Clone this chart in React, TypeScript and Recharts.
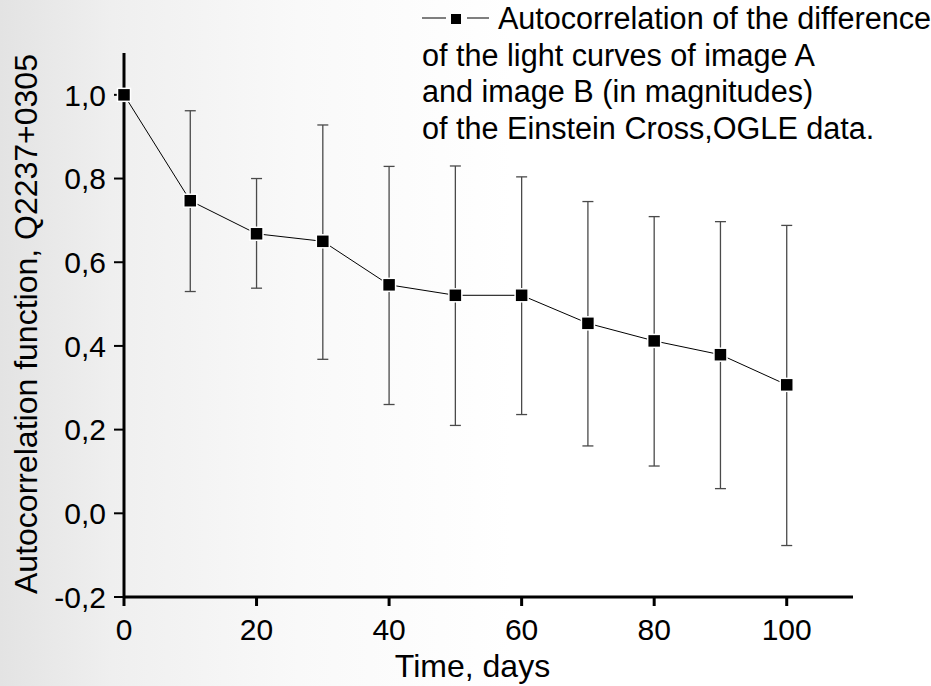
import React from 'react';
import { LineChart, Line, XAxis, YAxis, ErrorBar, Legend, Label } from 'recharts';

// time lag in days
const days = [0, 10, 20, 30, 40, 50, 60, 70, 80, 90, 100];
// autocorrelation value at each lag
const acf = [1.0, 0.747, 0.668, 0.65, 0.546, 0.521, 0.521, 0.454, 0.412, 0.379, 0.307];
// top and bottom ends of the error bars
const errTop = [1.0, 0.962, 0.8, 0.928, 0.829, 0.83, 0.804, 0.745, 0.709, 0.697, 0.688];
const errBottom = [1.0, 0.53, 0.538, 0.368, 0.26, 0.21, 0.236, 0.161, 0.113, 0.059, -0.077];

const xTicks = [0, 20, 40, 60, 80, 100];
const yTicks = [-0.2, 0, 0.2, 0.4, 0.6, 0.8, 1.0];

const seriesName = 'Autocorrelation of the difference';
const legendLines = [
  'of the light curves of image A',
  'and image B (in magnitudes)',
  'of the Einstein Cross,OGLE data.',
];

const FONT = '"Liberation Sans", Arial, Helvetica, sans-serif';

const data = days.map((t, i) => ({
  t,
  v: acf[i],
  err: [acf[i] - errBottom[i], errTop[i] - acf[i]],
}));

const fmt = (v: number) => v.toFixed(1).replace('.', ',');

const XTick = (props: any) => {
  const { x, y, payload } = props;
  return (
    <text x={x} y={y + 32} textAnchor="middle" fontSize={30} fontFamily={FONT} fill="#000">
      {payload.value}
    </text>
  );
};

const YTick = (props: any) => {
  const { x, y, payload } = props;
  return (
    <text x={x} y={y} dy="0.36em" textAnchor="end" fontSize={30} fontFamily={FONT} fill="#000">
      {fmt(payload.value)}
    </text>
  );
};

const SquareDot = (props: any) => {
  const { cx, cy, index } = props;
  return (
    <rect key={`sq-${index}`} x={cx - 6.5} y={cy - 6.5} width={13} height={13} fill="#000" stroke="#fff" strokeWidth={1.5} />
  );
};

const XTitle = (props: any) => {
  const vb = props.viewBox;
  return (
    <text x={vb.x + vb.width / 2 - 16} y={677} textAnchor="middle" fontSize={32} fontFamily={FONT} fill="#000">
      Time, days
    </text>
  );
};

const YTitle = (props: any) => {
  const vb = props.viewBox;
  const cy = vb.y + vb.height / 2 - 1;
  return (
    <text transform={`translate(37, ${cy}) rotate(-90)`} textAnchor="middle" fontSize={32} fontFamily={FONT} fill="#000">
      Autocorrelation function,  Q2237+0305
    </text>
  );
};

const renderLegend = (props: any) => {
  const name = props.payload && props.payload.length ? props.payload[0].value : seriesName;
  return (
    <div style={{ fontFamily: FONT, fontSize: 30.6, lineHeight: '36.7px', color: '#000', whiteSpace: 'pre' }}>
      <div style={{ display: 'flex', alignItems: 'flex-start' }}>
        <svg width={76} height={36.7}>
          <line x1={0} y1={18} x2={24} y2={18} stroke="#000" strokeWidth={1} />
          <rect x={29} y={14} width={10} height={10} fill="#000" />
          <line x1={45} y1={18} x2={67} y2={18} stroke="#000" strokeWidth={1} />
        </svg>
        <span>{name}</span>
      </div>
      {legendLines.map((l) => (
        <div key={l}>{l}</div>
      ))}
    </div>
  );
};

export default function App() {
  return (
    <div
      style={{
        position: 'absolute',
        left: 0,
        top: 0,
        width: 931,
        height: 686,
        background: 'linear-gradient(90deg, #e3e3e3 0%, #efefef 12%, #f9f9f9 32%, #ffffff 55%, #ffffff 100%)',
      }}
    >
      <LineChart width={931} height={686} data={data} margin={{ top: 53, right: 78, left: 0, bottom: 0 }}>
        <XAxis
          type="number"
          dataKey="t"
          domain={[0, 110]}
          ticks={xTicks}
          height={89}
          axisLine={{ stroke: '#000', strokeWidth: 3 }}
          tickLine={{ stroke: '#000', strokeWidth: 3 }}
          tickSize={9}
          tickMargin={2}
          tick={<XTick />}
          interval={0}
        >
          <Label content={<XTitle />} />
        </XAxis>
        <YAxis
          type="number"
          domain={[-0.2, 1.1]}
          ticks={yTicks}
          width={124}
          axisLine={{ stroke: '#000', strokeWidth: 3 }}
          tickLine={{ stroke: '#000', strokeWidth: 2 }}
          tickSize={10}
          tickMargin={8}
          tick={<YTick />}
          interval={0}
          allowDataOverflow
        >
          <Label content={<YTitle />} />
        </YAxis>
        <Legend
          layout="horizontal"
          verticalAlign="middle"
          content={renderLegend}
          wrapperStyle={{ position: 'absolute', left: 422, top: 0, width: 509 }}
        />
        <Line
          type="linear"
          dataKey="v"
          name={seriesName}
          stroke="#000"
          strokeWidth={1}
          dot={<SquareDot />}
          activeDot={false}
          isAnimationActive={false}
        >
          <ErrorBar dataKey="err" direction="y" width={5.5} stroke="#4a4a4a" strokeWidth={1.3} />
        </Line>
      </LineChart>
    </div>
  );
}
